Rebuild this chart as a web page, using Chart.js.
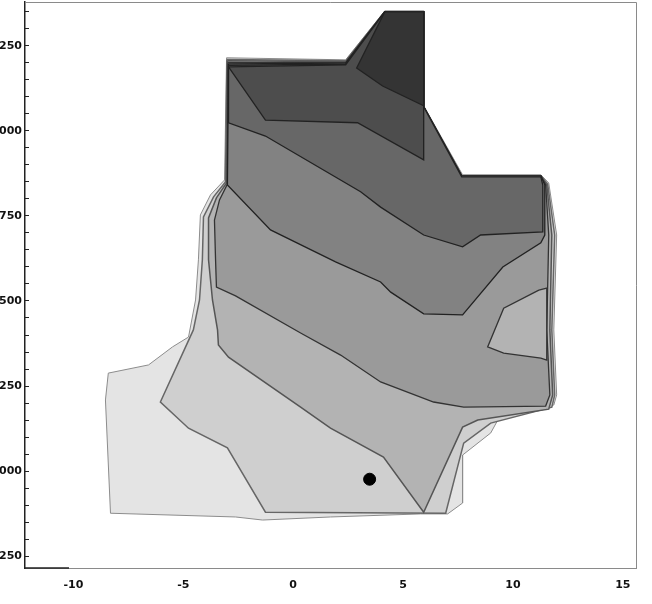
<!DOCTYPE html>
<html>
<head>
<meta charset="utf-8">
<script src="https://cdn.jsdelivr.net/npm/chart.js@4.4.1/dist/chart.umd.min.js"></script>
<style>
  html, body { margin: 0; padding: 0; background: #fff; overflow: hidden; }
  #wrap { position: absolute; left: -30px; top: -5px; width: 682px; height: 609px; }
</style>
</head>
<body>
<div id="wrap"><canvas id="chart"></canvas></div>
<script>
// axis ticks
const xTicks = [-10, -5, 0, 5, 10, 15];
const yMajor = [-0.25, 0, 0.25, 0.5, 0.75, 1.0, 1.25];
const yLabels = ['-0.250', '0.000', '0.250', '0.500', '0.750', '1.000', '1.250'];
const yMinorStep = 0.05;

// contour regions (value >= level), lightest first
const level1 = [[-3.03,1.215],[2.39,1.209],[4.17,1.353],[5.94,1.353],[5.94,1.074],[7.71,0.871],[11.27,0.871],
  [11.63,0.847],[11.99,0.694],[11.86,0.415],[11.99,0.224],[11.86,0.194],[9.44,0.165],[8.99,0.112],[7.71,0.047],
  [7.71,-0.094],[7.03,-0.126],[5.80,-0.126],[1.70,-0.135],[-1.39,-0.144],[-2.62,-0.135],[-8.31,-0.124],
  [-8.54,0.209],[-8.41,0.288],[-6.58,0.312],[-5.49,0.365],[-4.76,0.394],[-4.44,0.503],[-4.31,0.621],
  [-4.22,0.753],[-3.76,0.812],[-3.12,0.856]];
const level2 = [[-3.01,1.210],[2.39,1.206],[4.17,1.350],[5.94,1.350],[5.94,1.071],[7.67,0.868],[11.27,0.868],
  [11.58,0.844],[11.90,0.694],[11.77,0.415],[11.90,0.224],[11.77,0.188],[8.99,0.141],[7.76,0.082],[6.94,-0.124],
  [-1.26,-0.121],[-2.99,0.068],[-4.76,0.126],[-6.04,0.203],[-4.54,0.415],[-4.26,0.503],[-4.13,0.621],
  [-4.08,0.747],[-3.62,0.806],[-3.08,0.850]];
const level3 = [[-2.99,1.206],[2.39,1.203],[4.17,1.350],[5.94,1.350],[5.94,1.071],[7.67,0.868],[11.27,0.868],
  [11.54,0.841],[11.77,0.694],[11.68,0.415],[11.81,0.224],[11.63,0.182],[8.40,0.150],[7.71,0.129],[5.94,-0.121],
  [4.11,0.041],[1.70,0.126],[0.34,0.188],[-2.94,0.335],[-3.40,0.371],[-3.44,0.415],[-3.67,0.503],[-3.85,0.621],
  [-3.85,0.744],[-3.49,0.803],[-3.03,0.847]];
const level4 = [[-2.96,1.201],[2.39,1.201],[4.17,1.350],[5.94,1.350],[5.94,1.071],[7.67,0.868],[11.27,0.868],
  [11.49,0.841],[11.63,0.694],[11.54,0.415],[11.68,0.224],[11.49,0.191],[7.76,0.188],[6.39,0.203],[3.98,0.262],
  [2.16,0.341],[0.34,0.406],[-2.62,0.515],[-3.49,0.541],[-3.53,0.621],[-3.58,0.738],[-3.35,0.797],[-2.99,0.844]];
const pocket3 = [[11.18,0.532],[9.58,0.479],[8.85,0.365],[9.58,0.347],[11.27,0.332],[11.54,0.326],[11.54,0.538]];
const level5 = [[-2.94,1.197],[2.39,1.199],[4.17,1.350],[5.94,1.350],[5.94,1.071],[7.67,0.868],[11.27,0.868],
  [11.45,0.841],[11.45,0.694],[11.27,0.671],[9.54,0.600],[7.71,0.459],[5.94,0.462],[4.44,0.526],[3.98,0.556],
  [1.93,0.615],[-1.03,0.709],[-2.99,0.841]];
const level6 = [[-2.94,1.193],[2.39,1.196],[4.17,1.350],[5.94,1.350],[5.94,1.071],[7.67,0.865],[11.27,0.865],
  [11.36,0.841],[11.36,0.703],[8.53,0.694],[7.71,0.659],[5.94,0.694],[3.98,0.776],[3.07,0.821],[-1.26,0.985],
  [-2.94,1.024]];
const level7 = [[-2.94,1.188],[2.39,1.194],[4.17,1.350],[5.94,1.350],[5.94,0.915],[2.93,1.024],[-1.26,1.032]];
const level8 = [[4.17,1.350],[5.94,1.350],[5.94,1.074],[4.07,1.132],[2.89,1.185]];

const marker = [[3.48, -0.024]];

const regions = [
  { pts: level1, fill: '#e4e4e4', line: '#8c8c8c', w: 1 },
  { pts: level2, fill: '#cfcfcf', line: '#666666', w: 1.5 },
  { pts: level3, fill: '#b3b3b3', line: '#555555', w: 1.5 },
  { pts: level4, fill: '#9a9a9a', line: '#333333', w: 1.3 },
  { pts: pocket3, fill: '#b3b3b3', line: '#333333', w: 1.3 },
  { pts: level5, fill: '#828282', line: '#222222', w: 1.3 },
  { pts: level6, fill: '#676767', line: '#222222', w: 1.3 },
  { pts: level7, fill: '#4d4d4d', line: '#222222', w: 1.3 },
  { pts: level8, fill: '#343434', line: '#222222', w: 1.3 }
];

const toXY = arr => arr.map(p => ({ x: p[0], y: p[1] }));

const datasets = regions.map((r, i) => {
  const data = toXY(r.pts);
  data.push(data[0]); // close the outline
  return {
    data,
    showLine: true,
    fill: 'shape',
    backgroundColor: r.fill,
    borderColor: r.line,
    borderWidth: r.w,
    pointRadius: 0,
    tension: 0,
    order: 20 - i
  };
});

datasets.push({
  data: toXY(marker),
  pointRadius: 6,
  pointBackgroundColor: '#000',
  pointBorderColor: '#000',
  showLine: false,
  order: 0
});

const frame = {
  id: 'frame',
  afterDraw(chart) {
    const { ctx, chartArea: a } = chart;
    ctx.save();
    ctx.strokeStyle = '#8a8a8a';
    ctx.lineWidth = 1;
    ctx.beginPath();
    ctx.moveTo(a.left, a.top + 0.5);
    ctx.lineTo(a.right + 0.5, a.top + 0.5);
    ctx.lineTo(a.right + 0.5, a.bottom);
    ctx.stroke();
    // short dark stub of the bottom axis
    ctx.strokeStyle = '#222';
    ctx.lineWidth = 1.5;
    ctx.beginPath();
    ctx.moveTo(a.left, a.bottom);
    ctx.lineTo(a.left + 44, a.bottom);
    ctx.stroke();
    ctx.restore();
  }
};

const tickFont = { family: 'DejaVu Sans', weight: 'bold', size: 11 };

new Chart(document.getElementById('chart'), {
  type: 'scatter',
  data: { datasets },
  plugins: [frame],
  options: {
    responsive: true,
    maintainAspectRatio: false,
    animation: false,
    events: [],
    layout: { padding: { top: 2, right: 16, left: 0, bottom: 0 } },
    plugins: { legend: { display: false }, tooltip: { enabled: false } },
    scales: {
      x: {
        type: 'linear',
        min: -12.2,
        max: 15.6,
        afterBuildTicks: s => { s.ticks = xTicks.map(v => ({ value: v })); },
        afterFit: s => { s.height = 36; s.paddingLeft = 0; s.paddingRight = 0; },
        grid: { display: true, drawOnChartArea: false, drawTicks: false },
        border: { color: '#8a8a8a', width: 1 },
        ticks: { padding: 11, color: '#111', font: tickFont, maxRotation: 0 }
      },
      y: {
        type: 'linear',
        min: -0.285,
        max: 1.379,
        afterBuildTicks: s => {
          const t = [];
          for (let k = 0; k <= 32; k++) t.push({ value: Math.round((-0.25 + k * yMinorStep) * 1000) / 1000 });
          s.ticks = t;
        },
        afterFit: s => { s.width = 55; s.paddingTop = 0; s.paddingBottom = 0; },
        grid: { drawOnChartArea: false, drawTicks: true, tickLength: -4, color: '#222' },
        border: { color: '#222', width: 1.5 },
        ticks: {
          padding: 7,
          color: '#111',
          font: tickFont,
          autoSkip: false,
          callback: v => {
            const i = yMajor.findIndex(m => Math.abs(m - v) < 1e-6);
            return i >= 0 ? yLabels[i] : '';
          }
        }
      }
    }
  }
});
</script>
</body>
</html>
